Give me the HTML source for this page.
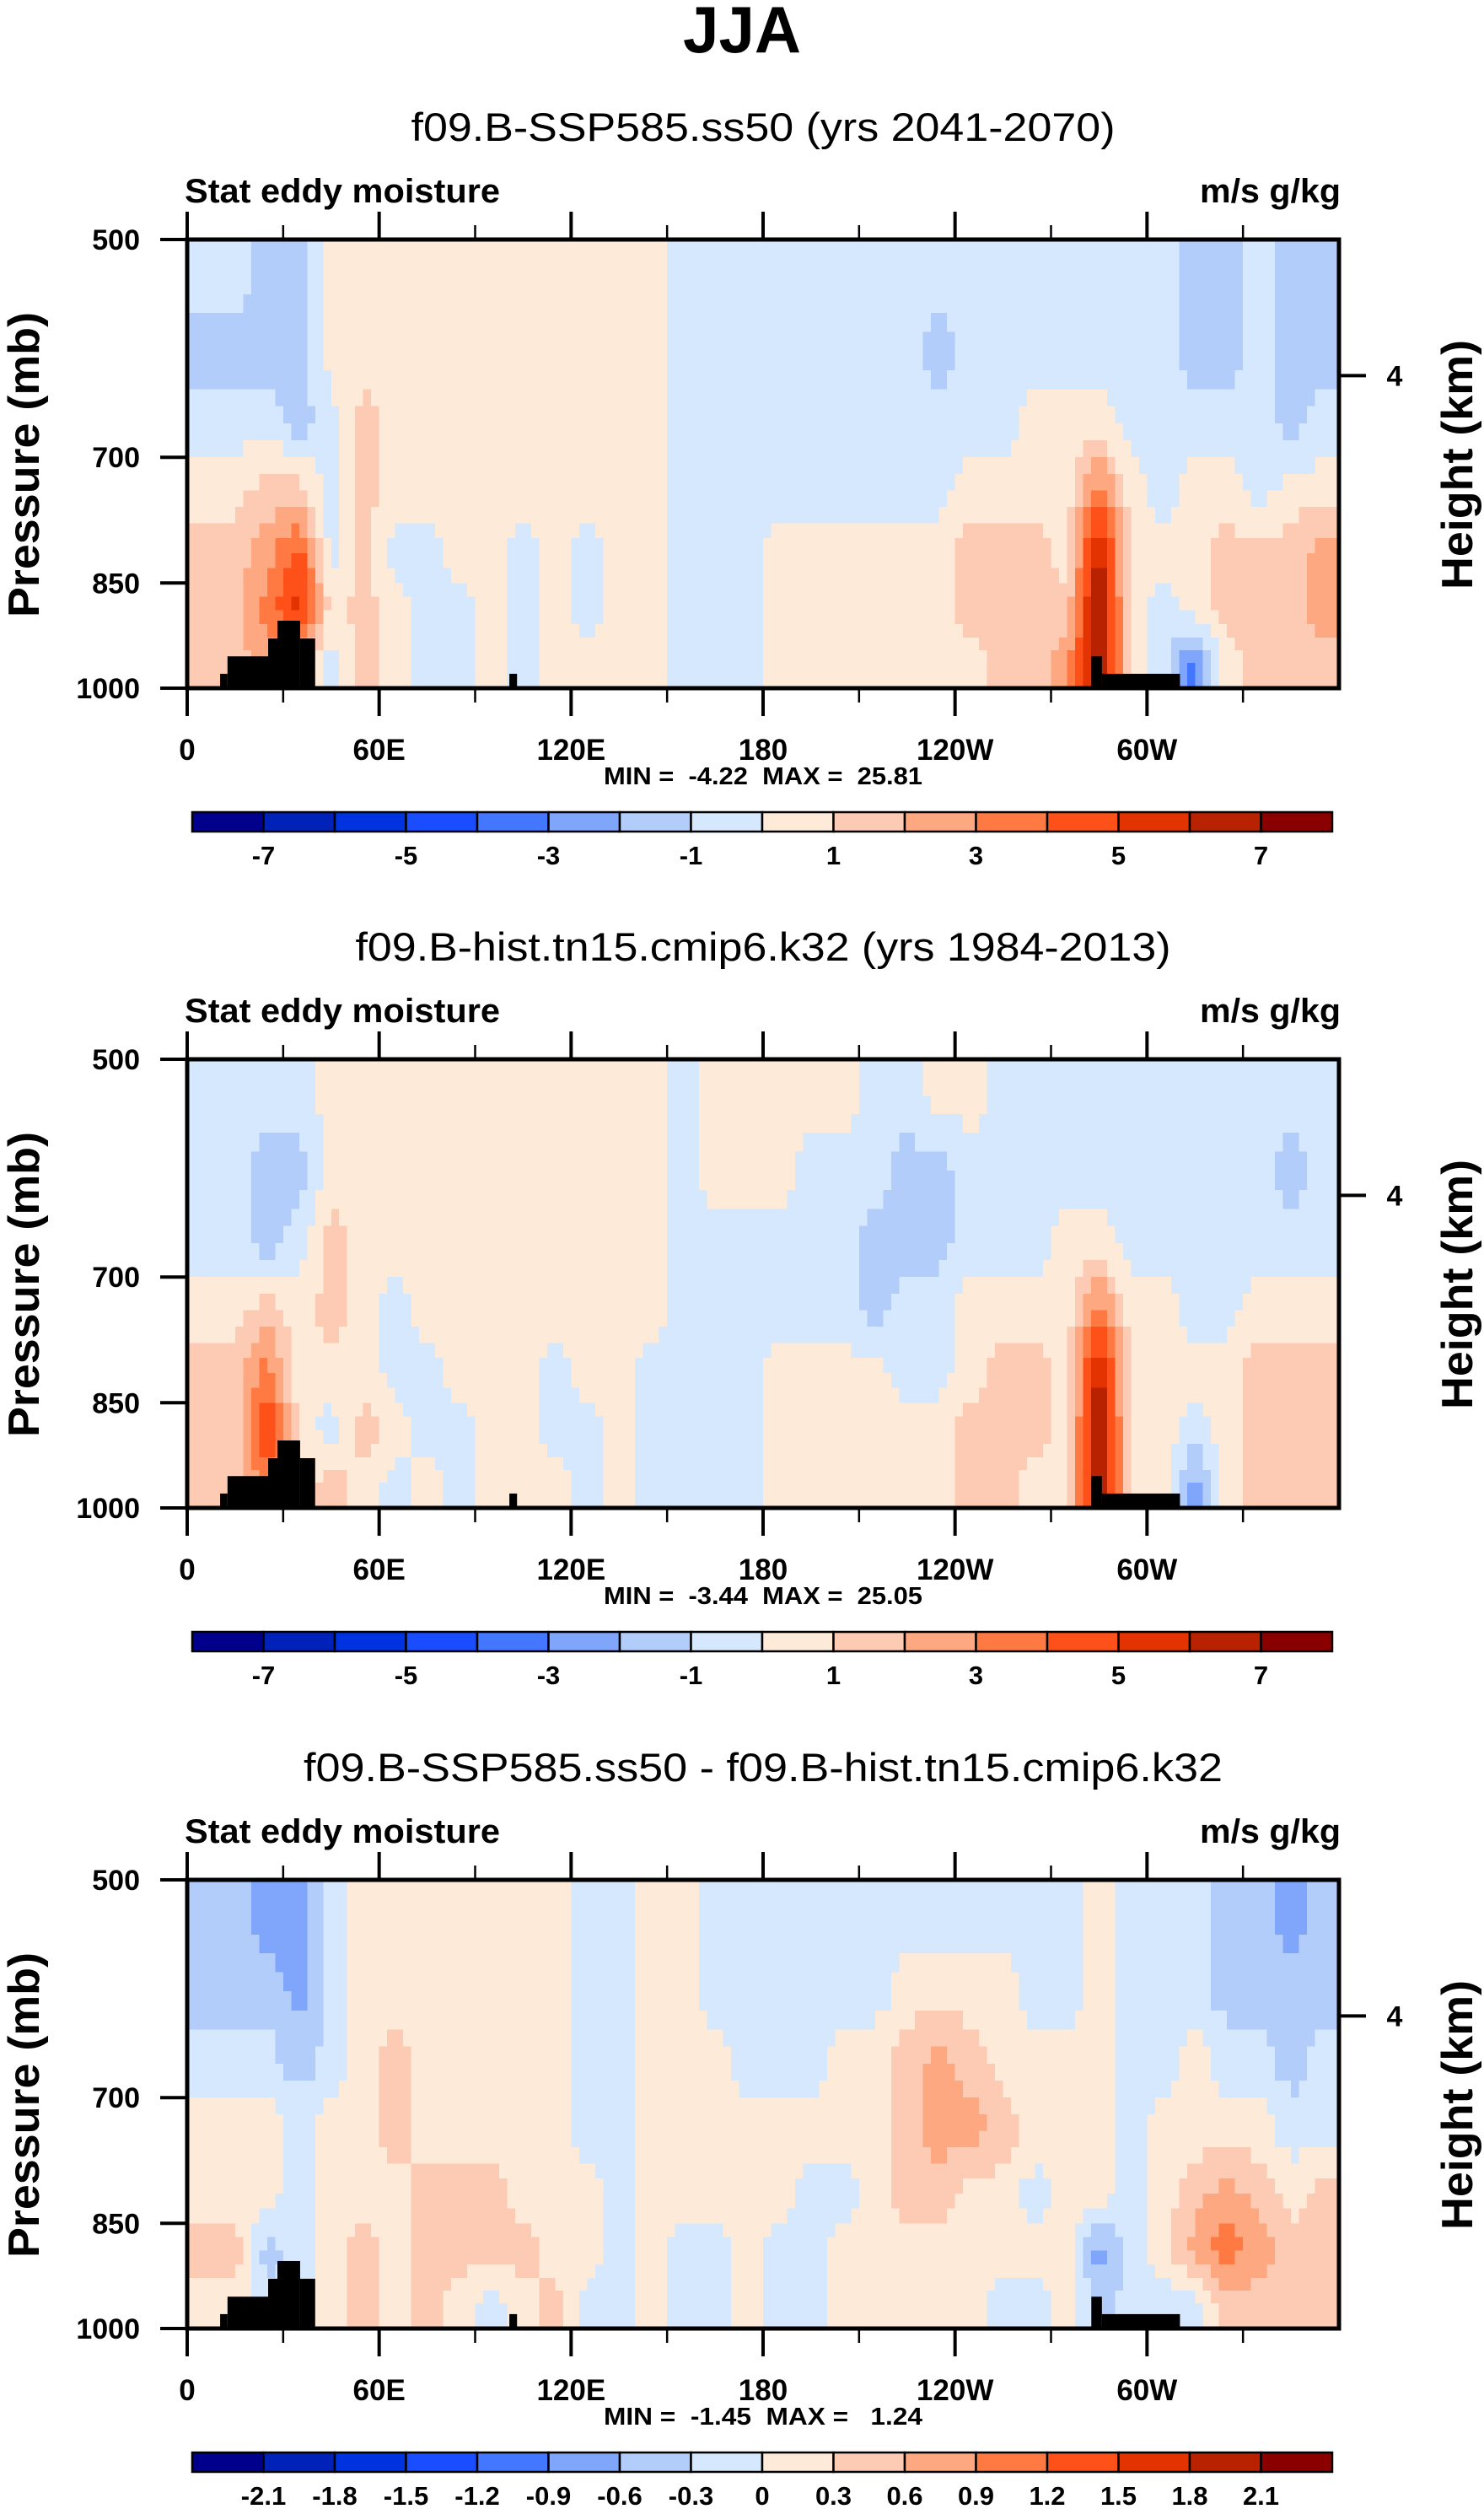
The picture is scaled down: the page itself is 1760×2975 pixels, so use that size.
<!DOCTYPE html>
<html><head><meta charset="utf-8"><style>
html,body{margin:0;padding:0;background:#fff;}
svg{display:block;}
text{font-family:"Liberation Sans",Arial,sans-serif;white-space:pre;}
</style></head><body>
<svg id="fig" width="1760" height="2975" viewBox="0 0 1760 2975" xmlns="http://www.w3.org/2000/svg">
<text x="880" y="62" text-anchor="middle" font-size="78" font-weight="bold" textLength="140" lengthAdjust="spacingAndGlyphs">JJA</text>
</svg>
<script>
// ---- data ----
const lonCenters = [5,15,25,35,45,55,65,75,85,95,105,115,125,135,145,155,165,175,185,195,205,215,225,235,245,255,265,275,285,295,305,315,325,335,345,355];
const pressureEdges = [500,560,630,700,775,850,925,1000];
const xTickLons = [0,60,120,180,240,300];
const xTickLabels = ["0","60E","120E","180","120W","60W"];
const yTickPressures = [500,700,850,1000];
const yTickLabels = ["500","700","850","1000"];
const heightTickPressure = 617;
const heightTickLabel = "4";
const colorbarLabels12 = ["-7","-5","-3","-1","1","3","5","7"];
const colorbarLabels3 = ["-2.1","-1.8","-1.5","-1.2","-0.9","-0.6","-0.3","0","0.3","0.6","0.9","1.2","1.5","1.8","2.1"];
const palette = ["#00008c","#0022b8","#0033e0","#1a4dff","#4477ff","#80a6fb","#b3cdfb","#d6e8fd","#feead8","#fdcbb3","#fda880","#fe7a42","#fe5019","#e23300","#b82200","#8a0000"];
// topography blocks: [lonStart, lonEnd, surface pressure]
const topoLonStart = [10.3,12.6,25.3,28.2,35.3,100.7,282.6,285.9];
const topoLonEnd   = [12.6,25.3,28.2,35.3,40.0,103.1,285.9,310.3];
const topoPressure = [978,952,926,901,926,978,952,978];

const panel1 = [
 [-0.5,-0.5,-1.5,-1.5,0.5,0.5,0.5,0.5,0.5,0.5,0.5,0.5,0.5,0.5,0.5,-0.5,-0.5,-0.5,-0.5,-0.5,-0.5,-0.5,-0.5,-0.5,-0.5,-0.5,-0.5,-0.5,-0.5,-0.5,-0.5,-1.5,-1.5,-0.5,-1.5,-1.5],
 [-1.5,-1.5,-1.5,-1.5,0.5,0.5,0.5,0.5,0.5,0.5,0.5,0.5,0.5,0.5,0.5,-0.5,-0.5,-0.5,-0.5,-0.5,-0.5,-0.5,-0.5,-1.5,-0.5,-0.5,-0.5,-0.5,-0.5,-0.5,-0.5,-1.5,-1.5,-0.5,-1.5,-1.5],
 [-0.5,-0.5,-0.5,-1.5,-0.5,1.5,0.5,0.5,0.5,0.5,0.5,0.5,0.5,0.5,0.5,-0.5,-0.5,-0.5,-0.5,-0.5,-0.5,-0.5,-0.5,-0.5,-0.5,-0.5,0.5,0.5,0.5,-0.5,-0.5,-0.5,-0.5,-0.5,-1.5,-0.5],
 [0.5,0.5,1.5,1.5,-0.5,1.5,0.5,0.5,0.5,0.5,0.5,0.5,0.5,0.5,0.5,-0.5,-0.5,-0.5,-0.5,-0.5,-0.5,-0.5,-0.5,-0.5,0.5,0.5,0.5,0.5,3.5,0.5,-0.5,0.5,0.5,-0.5,0.5,0.5],
 [1.5,1.5,2.5,4.5,-0.5,1.5,-0.5,-0.5,0.5,0.5,-0.5,0.5,-0.5,0.5,0.5,-0.5,-0.5,-0.5,0.5,0.5,0.5,0.5,0.5,0.5,1.5,1.5,1.5,0.5,6.5,0.5,0.5,0.5,1.5,1.5,1.5,2.5],
 [1.5,1.5,3.5,5.5,0.5,1.5,0.5,-0.5,-0.5,0.5,-0.5,0.5,-0.5,0.5,0.5,-0.5,-0.5,-0.5,0.5,0.5,0.5,0.5,0.5,0.5,1.5,1.5,1.5,1.5,7.5,0.5,-0.5,0.5,1.5,1.5,1.5,2.5],
 [1.5,1.5,2.5,1.5,-0.5,1.5,0.5,-0.5,-0.5,0.5,-0.5,0.5,0.5,0.5,0.5,-0.5,-0.5,-0.5,0.5,0.5,0.5,0.5,0.5,0.5,0.5,1.5,1.5,2.5,7.5,0.5,-0.5,-3.5,0.5,1.5,1.5,1.5]
];
const panel2 = [
 [-0.5,-0.5,-0.5,-0.5,0.5,0.5,0.5,0.5,0.5,0.5,0.5,0.5,0.5,0.5,0.5,-0.5,0.5,0.5,0.5,0.5,0.5,-0.5,-0.5,0.5,0.5,-0.5,-0.5,-0.5,-0.5,-0.5,-0.5,-0.5,-0.5,-0.5,-0.5,-0.5],
 [-0.5,-0.5,-1.5,-1.5,0.5,0.5,0.5,0.5,0.5,0.5,0.5,0.5,0.5,0.5,0.5,-0.5,0.5,0.5,0.5,-0.5,-0.5,-0.5,-1.5,-1.5,-0.5,-0.5,-0.5,-0.5,-0.5,-0.5,-0.5,-0.5,-0.5,-0.5,-1.5,-0.5],
 [-0.5,-0.5,-1.5,-0.5,1.5,0.5,0.5,0.5,0.5,0.5,0.5,0.5,0.5,0.5,0.5,-0.5,-0.5,-0.5,-0.5,-0.5,-0.5,-1.5,-1.5,-1.5,-0.5,-0.5,-0.5,0.5,0.5,-0.5,-0.5,-0.5,-0.5,-0.5,-0.5,-0.5],
 [0.5,0.5,1.5,0.5,1.5,0.5,-0.5,0.5,0.5,0.5,0.5,0.5,0.5,0.5,0.5,-0.5,-0.5,-0.5,-0.5,-0.5,-0.5,-1.5,-0.5,-0.5,0.5,0.5,0.5,0.5,3.5,0.5,0.5,-0.5,-0.5,0.5,0.5,0.5],
 [1.5,1.5,3.5,0.5,0.5,0.5,-0.5,-0.5,0.5,0.5,0.5,-0.5,0.5,0.5,-0.5,-0.5,-0.5,-0.5,0.5,0.5,0.5,0.5,-0.5,-0.5,0.5,1.5,1.5,0.5,6.5,0.5,0.5,0.5,0.5,1.5,1.5,1.5],
 [1.5,1.5,5.5,0.5,-0.5,1.5,0.5,-0.5,-0.5,0.5,0.5,-0.5,-0.5,0.5,-0.5,-0.5,-0.5,-0.5,0.5,0.5,0.5,0.5,0.5,0.5,1.5,1.5,1.5,0.5,7.5,0.5,0.5,-0.5,0.5,1.5,1.5,1.5],
 [1.5,1.5,3.5,0.5,1.5,0.5,-0.5,0.5,-0.5,0.5,0.5,0.5,-0.5,0.5,-0.5,-0.5,-0.5,-0.5,0.5,0.5,0.5,0.5,0.5,0.5,1.5,1.5,0.5,0.5,7.5,0.5,0.5,-2.5,0.5,1.5,1.5,1.5]
];
const panel3 = [
 [-0.45,-0.45,-0.75,-0.75,-0.15,0.15,0.15,0.15,0.15,0.15,0.15,0.15,-0.15,-0.15,0.15,0.15,-0.15,-0.15,-0.15,-0.15,-0.15,-0.15,-0.15,-0.15,-0.15,-0.15,-0.15,-0.15,0.15,-0.15,-0.15,-0.15,-0.45,-0.45,-0.75,-0.45],
 [-0.45,-0.45,-0.45,-0.75,-0.15,0.15,0.15,0.15,0.15,0.15,0.15,0.15,-0.15,-0.15,0.15,0.15,-0.15,-0.15,-0.15,-0.15,-0.15,-0.15,0.15,0.15,0.15,0.15,-0.15,-0.15,0.15,-0.15,-0.15,-0.15,-0.45,-0.45,-0.45,-0.45],
 [-0.15,-0.15,-0.15,-0.45,-0.15,0.15,0.45,0.15,0.15,0.15,0.15,0.15,-0.15,-0.15,0.15,0.15,0.15,-0.15,-0.15,-0.15,0.15,0.15,0.45,0.75,0.45,0.15,0.15,0.15,0.15,-0.15,-0.15,0.15,-0.15,-0.15,-0.45,-0.15],
 [0.15,0.15,0.15,-0.15,0.15,0.15,0.45,0.15,0.15,0.15,0.15,0.15,-0.15,-0.15,0.15,0.15,0.15,0.15,0.15,0.15,0.15,0.15,0.45,0.75,0.75,0.45,0.15,0.15,0.15,-0.15,0.15,0.15,0.15,0.15,-0.15,-0.15],
 [0.15,0.15,0.15,-0.15,0.15,0.15,0.15,0.45,0.45,0.45,0.15,0.15,0.15,-0.15,0.15,0.15,0.15,0.15,0.15,-0.15,-0.15,0.15,0.45,0.45,0.15,0.15,-0.15,0.15,0.15,-0.15,0.15,0.45,0.75,0.45,0.15,0.45],
 [0.45,0.45,-0.45,-0.15,0.15,0.45,0.15,0.45,0.45,0.45,0.45,0.15,0.15,-0.15,0.15,-0.15,-0.15,0.15,-0.15,-0.15,0.15,0.15,0.15,0.15,0.15,0.15,0.15,0.15,-0.75,-0.15,0.15,0.75,1.05,0.75,0.45,0.45],
 [0.15,0.15,-0.15,-0.15,0.15,0.45,0.15,0.45,0.15,-0.15,0.15,0.45,-0.15,-0.15,0.15,-0.15,-0.15,0.15,-0.15,-0.15,0.15,0.15,0.15,0.15,0.15,-0.15,-0.15,0.15,-0.45,-0.15,-0.15,-0.15,0.45,0.45,0.45,0.45]
];
const subtitles = ["f09.B-SSP585.ss50 (yrs 2041-2070)","f09.B-hist.tn15.cmip6.k32 (yrs 1984-2013)","f09.B-SSP585.ss50 - f09.B-hist.tn15.cmip6.k32"];
const minMaxTexts = ["MIN =  -4.22  MAX =  25.81","MIN =  -3.44  MAX =  25.05","MIN =  -1.45  MAX =   1.24"];

// ---- layout ----
const NS="http://www.w3.org/2000/svg";
const svg=document.getElementById('fig');
const PL=222, PW=1366, PH=532;
const panelTops=[284,1256,2229];
const SUB=4;
function mk(tag,attrs,parent){const e=document.createElementNS(NS,tag);for(const k in attrs)e.setAttribute(k,attrs[k]);(parent||svg).appendChild(e);return e;}
function xOf(lon){return PL+PW*lon/360;}
function yOf(top,p){return top+PH*Math.log(p/500)/Math.log(2);}
function colorIdx(v,step){let i=Math.floor(v/step)+8;return Math.max(0,Math.min(15,i));}
function sample(grid,cx,ry){
  const nr=grid.length, nc=grid[0].length;
  ry=Math.max(0,Math.min(nr-1,ry)); cx=Math.max(0,Math.min(nc-1,cx));
  const r0=Math.floor(ry), c0=Math.floor(cx), r1=Math.min(nr-1,r0+1), c1=Math.min(nc-1,c0+1);
  const fr=ry-r0, fc=cx-c0;
  const a=grid[r0][c0]*(1-fc)+grid[r0][c1]*fc, b=grid[r1][c0]*(1-fc)+grid[r1][c1]*fc;
  return a*(1-fr)+b*fr;
}

function drawPanel(k,grid,step,cbLabels){
  const top=panelTops[k];
  const off=top-284;
  const g=mk('g',{});
  
  
  const st=mk('text',{x:905,y:167+off,'text-anchor':'middle','font-size':47,textLength:(k===0?835:(k===1?967:1090)),lengthAdjust:'spacingAndGlyphs'},g);
  
  
  st.textContent=subtitles[k];
  const lt=mk('text',{x:219,y:240+off,'font-size':40,'font-weight':'bold',textLength:374,lengthAdjust:'spacingAndGlyphs'},g);
  
  
  lt.textContent='Stat eddy moisture';
  const rt=mk('text',{x:1590,y:240+off,'text-anchor':'end','font-size':40,'font-weight':'bold',textLength:167,lengthAdjust:'spacingAndGlyphs'},g);
  
  
  rt.textContent='m/s g/kg';
  // smoothed cells
  const cg=mk('g',{'shape-rendering':'crispEdges'},g);
  
  
  for(let r=0;r<grid.length;r++){
    for(let sr=0;sr<SUB;sr++){
      const pa=pressureEdges[r]*Math.pow(pressureEdges[r+1]/pressureEdges[r],sr/SUB);
      const pb=pressureEdges[r]*Math.pow(pressureEdges[r+1]/pressureEdges[r],(sr+1)/SUB);
      const y0=yOf(top,pa), y1=yOf(top,pb);
      const ry=r+(sr+0.5)/SUB-0.5;
      for(let c=0;c<lonCenters.length;c++){
        for(let sc=0;sc<SUB;sc++){
          const la=lonCenters[c]-5+10*sc/SUB, lb=lonCenters[c]-5+10*(sc+1)/SUB;
          const cx=c+(sc+0.5)/SUB-0.5;
          const v=sample(grid,cx,ry);
          const x0=xOf(la), x1=xOf(lb);
          const rc=mk('rect',{x:x0.toFixed(1),y:y0.toFixed(1),width:(x1-x0+0.6).toFixed(1),height:(y1-y0+0.6).toFixed(1),fill:palette[colorIdx(v,step)]},cg);
          
          
        }
      }
    }
  }
  // topography
  for(let i=0;i<topoLonStart.length;i++){
    const x0=xOf(topoLonStart[i]), x1=xOf(topoLonEnd[i]), y0=yOf(top,topoPressure[i]);
    const tr=mk('rect',{x:x0,y:y0,width:x1-x0,height:top+PH-y0,fill:'#000'},g);
    
    
  }
  // frame
  const fr=mk('rect',{x:PL,y:top,width:PW,height:PH,fill:'none',stroke:'#000','stroke-width':5},g);
  
  
  // x ticks
  for(let lon=0;lon<=330;lon+=30){
    const major=lon%60===0, L=major?33:17, x=xOf(lon);
    const t1=mk('line',{x1:x,x2:x,y1:top+PH,y2:top+PH+L,stroke:'#000','stroke-width':major?4:2.5},g);
    
    
    const t2=mk('line',{x1:x,x2:x,y1:top,y2:top-L,stroke:'#000','stroke-width':major?4:2.5},g);
    
    
  }
  for(let i=0;i<xTickLons.length;i++){
    const t=mk('text',{x:xOf(xTickLons[i]),y:top+PH+85,'text-anchor':'middle','font-size':35,'font-weight':'bold'},g);
    
    
    t.textContent=xTickLabels[i];
  }
  // y ticks
  for(let i=0;i<yTickPressures.length;i++){
    const y=yOf(top,yTickPressures[i]);
    const l=mk('line',{x1:PL-32,x2:PL,y1:y,y2:y,stroke:'#000','stroke-width':4},g);
    
    
    const t=mk('text',{x:166,y:y+12,'text-anchor':'end','font-size':34,'font-weight':'bold'},g);
    
    
    t.textContent=yTickLabels[i];
  }
  const hy=yOf(top,heightTickPressure);
  const hl=mk('line',{x1:PL+PW,x2:PL+PW+32,y1:hy,y2:hy,stroke:'#000','stroke-width':4},g);
  
  
  const ht=mk('text',{x:1654,y:hy+12,'text-anchor':'middle','font-size':34,'font-weight':'bold'},g);
  
  
  ht.textContent=heightTickLabel;
  const yl=mk('text',{x:0,y:0,'text-anchor':'middle','font-size':52,'font-weight':'bold',transform:`translate(46,${top+267}) rotate(-90)`,textLength:362,lengthAdjust:'spacingAndGlyphs'},g);
  
  
  yl.textContent='Pressure (mb)';
  const yr=mk('text',{x:0,y:0,'text-anchor':'middle','font-size':52,'font-weight':'bold',transform:`translate(1746,${top+267}) rotate(-90)`,textLength:296,lengthAdjust:'spacingAndGlyphs'},g);
  
  
  yr.textContent='Height (km)';
  const mm=mk('text',{x:905,y:top+PH+114,'text-anchor':'middle','font-size':29,'font-weight':'bold',textLength:378,lengthAdjust:'spacingAndGlyphs'},g);
  
  
  mm.textContent=minMaxTexts[k];
  // colorbar
  const cbX=228, cbW=1352, cbY=top+679, cbH=23, bw=cbW/16;
  const cb=mk('g',{},g);
  
  
  for(let i=0;i<16;i++){
    const b=mk('rect',{x:cbX+i*bw,y:cbY,width:bw,height:cbH,fill:palette[i],stroke:'#000','stroke-width':2.5},cb);
    
    
  }
  const every = cbLabels.length===8?2:1;
  for(let j=0;j<cbLabels.length;j++){
    const bi = every===2 ? 1+2*j : 1+j;
    const t=mk('text',{x:cbX+bi*bw,y:cbY+62,'text-anchor':'middle','font-size':31,'font-weight':'bold'},cb);
    
    
    t.textContent=cbLabels[j];
  }
}
drawPanel(0,panel1,1,colorbarLabels12);
drawPanel(1,panel2,1,colorbarLabels12);
drawPanel(2,panel3,0.3,colorbarLabels3);
</script>
</body></html>
